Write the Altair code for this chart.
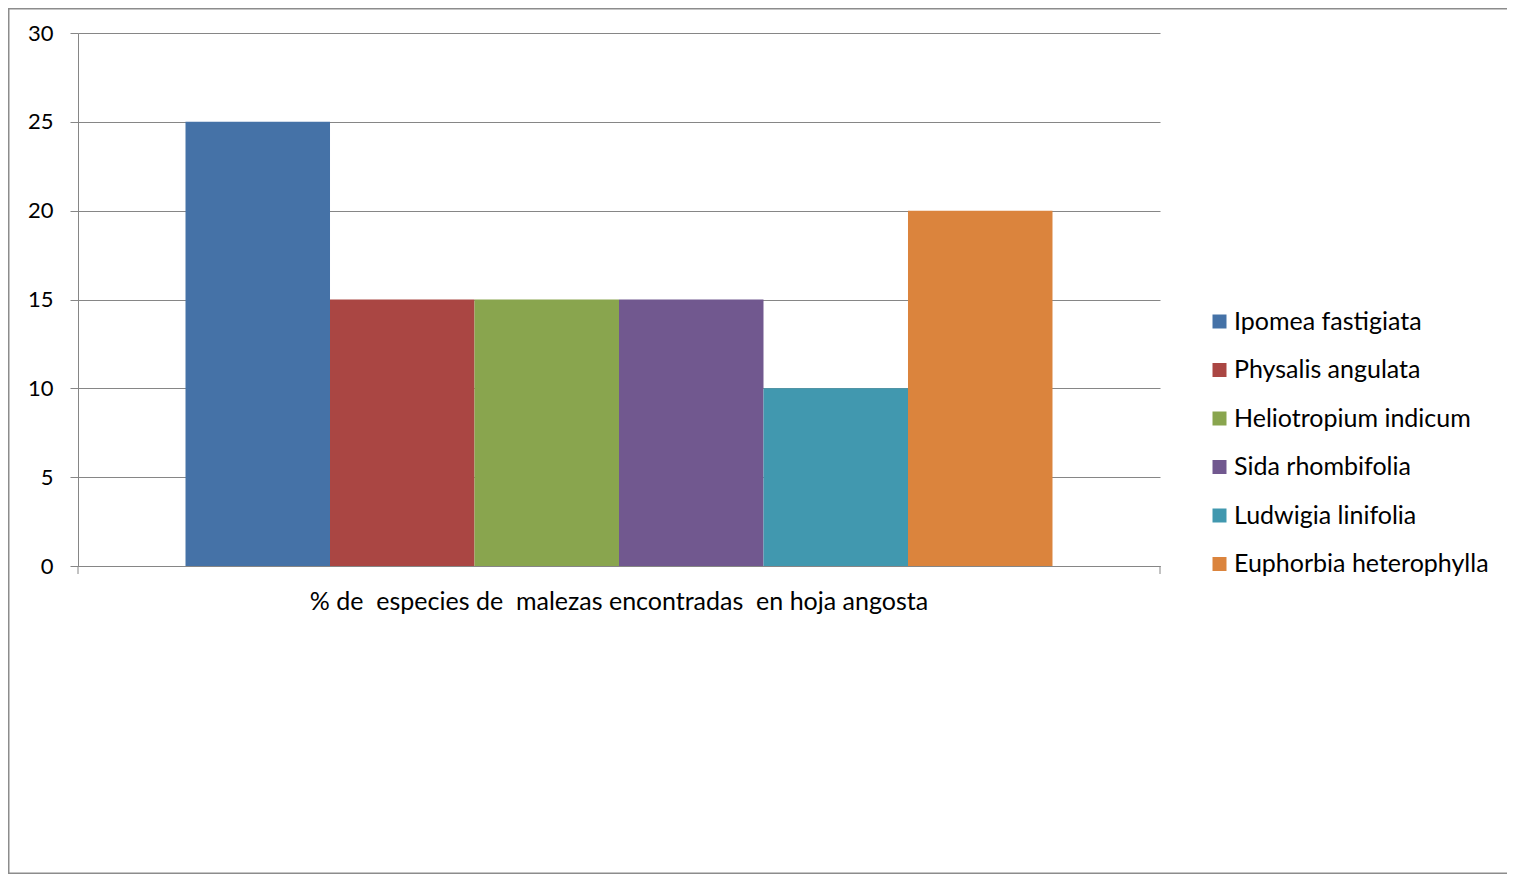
import altair as alt
import pandas as pd

species = ["Ipomea fastigiata", "Physalis angulata", "Heliotropium indicum",
           "Sida rhombifolia", "Ludwigia linifolia", "Euphorbia heterophylla"]
percent = [25, 15, 15, 15, 10, 20]
colors = ["#4572A7", "#AA4643", "#89A54E", "#71588F", "#4198AF", "#DB843D"]
category = "% de  especies de  malezas encontradas  en hoja angosta".replace("  ", "\u00a0 ")
y_ticks = [0, 5, 10, 15, 20, 25, 30]

df = pd.DataFrame({"cat": [category] * len(species), "species": species, "value": percent})

W, H = 1082, 533
FONT = "Lato"
AX = "#868686"

bars = alt.Chart(df).mark_bar().encode(
    x=alt.X("cat:N", scale=alt.Scale(paddingInner=0, paddingOuter=0.124),
            axis=alt.Axis(title=None, labelAngle=0, ticks=False, domain=True,
                          domainColor=AX, labelFontSize=25, labelFont=FONT,
                          labelColor="black", labelPadding=23, labelLimit=0)),
    xOffset=alt.XOffset("species:N", sort=species,
                        scale=alt.Scale(paddingInner=0, paddingOuter=0)),
    y=alt.Y("value:Q", scale=alt.Scale(domain=[0, 30], nice=False),
            axis=alt.Axis(title=None, values=y_ticks, tickSize=8, tickColor=AX,
                          gridColor=AX, domainColor=AX, labelFontSize=22,
                          labelFont=FONT, labelColor="black", labelPadding=17)),
    color=alt.Color("species:N", sort=species,
                    scale=alt.Scale(domain=species, range=colors),
                    legend=alt.Legend(title=None, orient="none", legendX=1129, legendY=276,
                                      symbolType="square", symbolSize=196,
                                      symbolStrokeWidth=0, labelFontSize=25,
                                      labelFont=FONT, labelColor="black",
                                      rowPadding=22.5, labelOffset=2, labelLimit=0)),
)

marker_df = pd.DataFrame({"a": [0]})
left_end = alt.Chart(marker_df).mark_rule(color=AX).encode(
    x=alt.value(0), y=alt.value(H), y2=alt.value(H + 8))
right_end = alt.Chart(marker_df).mark_rule(color=AX).encode(
    x=alt.value(W), y=alt.value(H), y2=alt.value(H + 8))
border = alt.Chart(marker_df).mark_rect(fillOpacity=0, stroke="#8c8c8c", strokeWidth=1.5).encode(
    x=alt.value(-69.25), x2=alt.value(W + 400),
    y=alt.value(-24.25), y2=alt.value(840.25))

chart = alt.layer(border, bars, left_end, right_end).properties(
    width=W, height=H,
    padding={"left": 70, "top": 25, "right": 347, "bottom": 308},
    autosize=alt.AutoSizeParams(type="none"),
).configure(background="white").configure_view(stroke=None)

chart.save("out.html", embed_options={"renderer": "svg", "actions": False})
